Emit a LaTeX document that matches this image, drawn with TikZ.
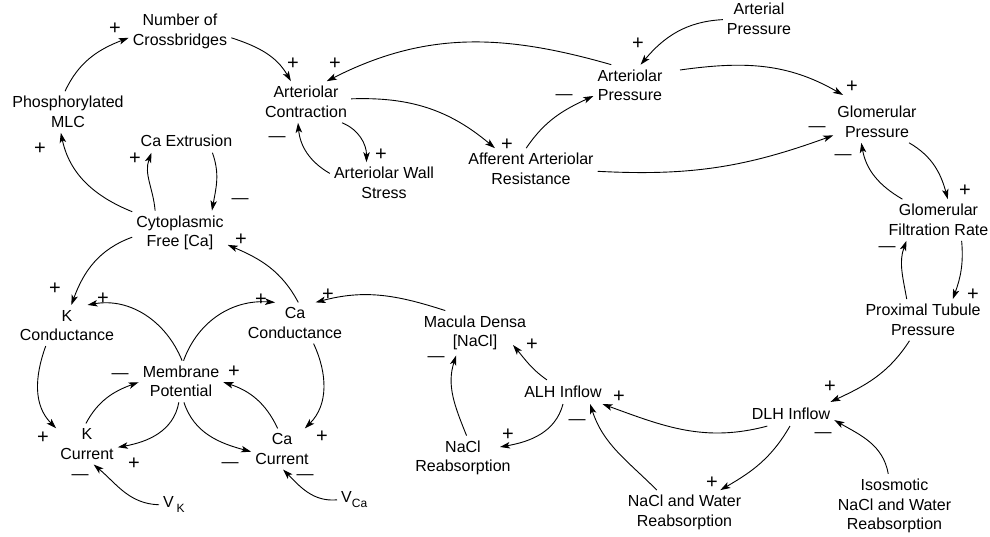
\documentclass[tikz,border=0pt]{standalone}
\usepackage{fontspec}
\setmainfont{Liberation Sans}
\usetikzlibrary{arrows.meta}
\begin{document}
\begin{tikzpicture}[x=1pt,y=1pt,
  lbl/.style={font=\fontsize{16}{19.5}\selectfont, align=center, inner xsep=4pt, inner ysep=5pt},
  one/.style={lbl, inner ysep=6pt},
  link/.style={draw, line width=0.9pt, -{Stealth[length=10pt,width=6.5pt,inset=2.5pt]}},
  possign/.style={font=\fontsize{20}{20}\selectfont, inner sep=0pt, anchor=base, yshift=-7.1pt},
  negsign/.style={font=\fontsize{17}{17}\selectfont, inner sep=0pt, anchor=base, yshift=-4.7pt},
]
\fill[white] (0,0) rectangle (990,537);
\useasboundingbox (0,0) rectangle (990,537);

% ---- variables ----
\node[lbl] (ncb)  at (180,505.5) {Number of\\Crossbridges};
\node[lbl] (pmlc) at (68,425) {Phosphorylated\\MLC};
\node[one] (cex)  at (186.5,396.3) {Ca Extrusion};
\node[lbl] (ac)   at (306,435) {Arteriolar\\Contraction};
\node[lbl] (aws)  at (384,354) {Arteriolar Wall\\Stress};
\node[lbl] (aar)  at (531,368) {Afferent Arteriolar\\Resistance};
\node[lbl] (ap)   at (630,451.5) {Arteriolar\\Pressure};
\node[lbl] (arp)  at (759,518) {Arterial\\Pressure};
\node[lbl] (gp)   at (877,415) {Glomerular\\Pressure};
\node[lbl] (gfr)  at (938.5,317) {Glomerular\\Filtration Rate};
\node[lbl] (ptp)  at (923,217) {Proximal Tubule\\Pressure};
\node[one] (dlh)  at (791,123) {DLH Inflow};
\node[lbl] (iso)  at (894.5,31) {Isosmotic\\NaCl and Water\\Reabsorption};
\node[lbl] (nwr)  at (684.5,24.5) {NaCl and Water\\Reabsorption};
\node[one] (alh)  at (563,145) {ALH Inflow};
\node[lbl] (md)   at (475,204) {Macula Densa\\{[NaCl]}};
\node[lbl] (nr)   at (463,79) {NaCl\\Reabsorption};
\node[lbl] (cyt)  at (180,304) {Cytoplasmic\\Free [Ca]};
\node[lbl] (kc)   at (67,211.5) {K\\Conductance};
\node[lbl] (cac)  at (295,214) {Ca\\Conductance};
\node[lbl] (mp)   at (181,155.5) {Membrane\\Potential};
\node[lbl] (kcur) at (87,93) {K\\Current};
\node[lbl] (cacur) at (282,88) {Ca\\Current};
\node[one, anchor=base west] (vk) at (159,29.2) {V\,\raisebox{-5pt}{\fontsize{12}{12}\selectfont K}};
\node[one, anchor=base west] (vca) at (337,34.2) {V\raisebox{-5pt}{\fontsize{12}{12}\selectfont Ca}};

% ---- links ----
\draw[link] (pmlc.98) to[out=65,in=201] (ncb.187);
\draw[link] (ncb.-7) to[out=-18,in=120] (ac.126);
\draw[link] (ap.132) to[out=164,in=27] (ac.45);
\draw[link] (ac.-30) to[out=-22,in=90] (aws.130);
\draw[link] (aws.170) to[out=150,in=275] (ac.249);
\draw[link] (ac.4) to[out=2,in=140] (aar.150);
\draw[link] (aar.103) to[out=56,in=205] (ap.196);
\draw[link] (arp.181) to[out=183,in=50] (ap.63);
\draw[link] ([shift={(50pt,15.5pt)}]ap.center) to[out=8,in=150] ([shift={(-34pt,27pt)}]gp.center);
\draw[link] (aar.-2) to[out=-3,in=200] (gp.197);
\draw[link] (gfr.150) to[out=150,in=280] (gp.233);
\draw[link] (gp.-33) to[out=-30,in=105] (gfr.66);
\draw[link] (ptp.128) to[out=100,in=250] (gfr.213);
\draw[link] (gfr.-42) to[out=-85,in=70] (ptp.35);
\draw[link] (ptp.237) to[out=237,in=25] (dlh.17);
\draw[link] (dlh.207) to[out=195,in=-20] (alh.-17);
\draw[link] (dlh.265) to[out=240,in=30] (nwr.32);
\draw[link] (iso.101) to[out=100,in=-30] (dlh.-8);
\draw[link] (nwr.141) to[out=135,in=288] (alh.-24);
\draw[link] (alh.143) to[out=145,in=-50] ([shift={(38pt,-12pt)}]md.center);
\draw[link] (alh.270) to[out=255,in=10] ([shift={(37pt,11pt)}]nr.center);
\draw[link] (nr.81) to[out=112,in=252] (md.230);
\draw[link] (md.143) to[out=162,in=15] (cac.45);
\draw[link] (cac.81) to[out=118,in=-23] (cyt.-14);
\draw[link] (cyt.185) to[out=200,in=70] (kc.78);
\draw[link] (cyt.156) to[out=158,in=282] (pmlc.251);
\draw[link] (cyt.138) to[out=95,in=250] (cex.199);
\draw[link] (cex.-25) to[out=-70,in=80] (cyt.35);
\draw[link] (mp.87) to[out=112,in=10] (kc.45);
\draw[link] (mp.83) to[out=70,in=176] (cac.134);
\draw[link] (kc.224) to[out=250,in=135] (kcur.153);
\draw[link] (cac.-48) to[out=-65,in=45] (cacur.42);
\draw[link] (kcur.93) to[out=62,in=200] (mp.181);
\draw[link] (mp.264) to[out=-100,in=10] (kcur.-6);
\draw[link] (mp.-82) to[out=-72,in=165] (cacur.185);
\draw[link] (cacur.102) to[out=115,in=-18] (mp.-1);
\draw[link] (vk.west) to[out=178,in=-40] (kcur.-72);
\draw[link] (vca.west) to[out=185,in=-45] (cacur.-87);

% ---- polarity signs ----
\node[possign] (s1) at (115,510) {+};
\node[possign] (s2) at (293,475) {+};
\node[possign] (s3) at (335,475) {+};
\node[possign] (s4) at (381,384) {+};
\node[negsign] (s5) at (277,400) {—};
\node[possign] (s6) at (507,394) {+};
\node[negsign] (s7) at (564,442) {—};
\node[possign] (s8) at (638,495) {+};
\node[possign] (s9) at (852,452) {+};
\node[negsign] (s10) at (817,410) {—};
\node[negsign] (s11) at (843,382) {—};
\node[possign] (s12) at (965,348) {+};
\node[negsign] (s13) at (887,290.5) {—};
\node[possign] (s14) at (973,244) {+};
\node[possign] (s15) at (830,152) {+};
\node[possign] (s16) at (619,142) {+};
\node[possign] (s17) at (712,56) {+};
\node[negsign] (s18) at (823,104) {—};
\node[negsign] (s19) at (577,117) {—};
\node[possign] (s20) at (532,194) {+};
\node[possign] (s21) at (508,104) {+};
\node[negsign] (s22) at (436,180) {—};
\node[possign] (s23) at (328,244) {+};
\node[possign] (s24) at (241,299) {+};
\node[possign] (s25) at (55,250) {+};
\node[possign] (s26) at (40,390) {+};
\node[possign] (s27) at (135,380) {+};
\node[negsign] (s28) at (240,338) {—};
\node[possign] (s29) at (103,240) {+};
\node[possign] (s30) at (261,239) {+};
\node[possign] (s31) at (43,101) {+};
\node[possign] (s32) at (322,102) {+};
\node[negsign] (s33) at (120,163) {—};
\node[possign] (s34) at (134,75) {+};
\node[negsign] (s35) at (230,74) {—};
\node[possign] (s36) at (234,167) {+};
\node[negsign] (s37) at (80,62) {—};
\node[negsign] (s38) at (305,62) {—};
\end{tikzpicture}
\end{document}
